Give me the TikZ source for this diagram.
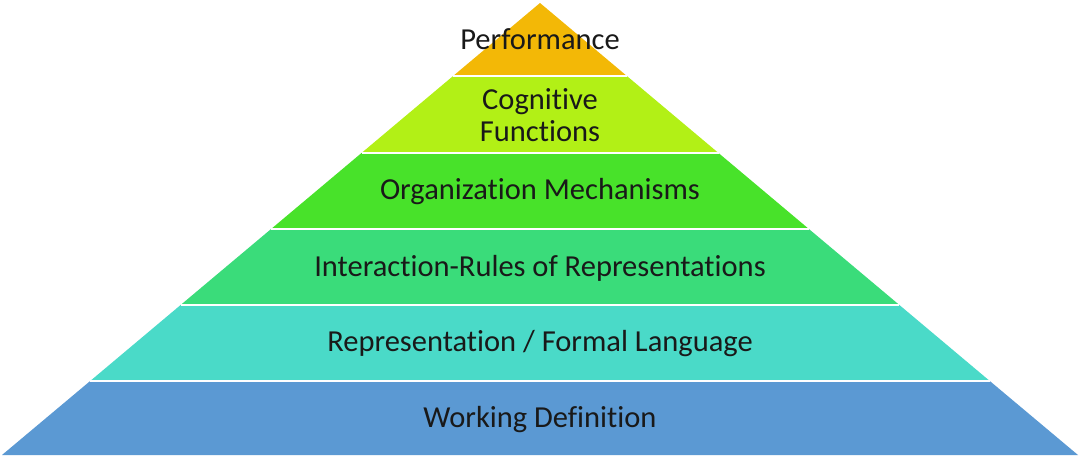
\documentclass[tikz,border=0pt]{standalone}
\usepackage{fontspec}
\setmainfont[Ligatures={NoCommon}]{Carlito}
\definecolor{cPerf}{RGB}{243,184,6}
\definecolor{cCog}{RGB}{178,240,22}
\definecolor{cOrg}{RGB}{72,226,42}
\definecolor{cInt}{RGB}{58,220,122}
\definecolor{cRep}{RGB}{74,218,200}
\definecolor{cWork}{RGB}{91,153,211}
\tikzset{
  lbl/.style={font=\fontsize{30.5}{32}\selectfont, text=black!90, align=center, inner sep=0pt},
  sep/.style={white, line width=2pt}
}
\begin{document}
\begin{tikzpicture}[x=1pt,y=-1pt]
\useasboundingbox (0,0) rectangle (1080,458);
% bands: (center x 540), half width = 1.19*(y-3)
\fill[cPerf] (540,3) -- (626.9,76) -- (453.1,76) -- cycle;
\fill[cCog] (453.1,76) -- (626.9,76) -- (718.5,153) -- (361.5,153) -- cycle;
\fill[cOrg] (361.5,153) -- (718.5,153) -- (808.9,229) -- (271.1,229) -- cycle;
\fill[cInt] (271.1,229) -- (808.9,229) -- (899.4,305) -- (180.6,305) -- cycle;
\fill[cRep] (180.6,305) -- (899.4,305) -- (989.8,381) -- (90.2,381) -- cycle;
\fill[cWork] (90.2,381) -- (989.8,381) -- (1078,455) -- (2,455) -- cycle;
\draw[sep] (453.1,76) -- (626.9,76);
\draw[sep] (361.5,153) -- (718.5,153);
\draw[sep] (271.1,229) -- (808.9,229);
\draw[sep] (180.6,305) -- (899.4,305);
\draw[sep] (90.2,381) -- (989.8,381);
\node[lbl] (perf) at (540,39) {Performance};
\node[lbl] (cog) at (540,115) {Cognitive\\Functions};
\node[lbl] (org) at (540,192) {Organization Mechanisms};
\node[lbl] (int) at (540,268) {Interaction-Rules of Representations};
\node[lbl] (rep) at (540,344) {Representation / Formal Language};
\node[lbl] (work) at (540,420) {Working Definition};
\end{tikzpicture}
\end{document}
